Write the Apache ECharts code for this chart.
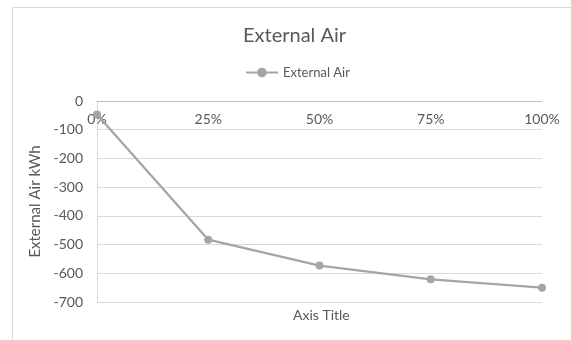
<!DOCTYPE html>
<html>
<head>
<meta charset="utf-8">
<script src="https://cdn.jsdelivr.net/npm/echarts@6/dist/echarts.min.js"></script>
<style>
  html, body { margin: 0; padding: 0; background: #fff; }
  #chart { width: 571px; height: 340px; }
</style>
</head>
<body>
<div id="chart"></div>
<script>
// Fraction of the run and the external air energy at each step
const fractions = [0, 0.25, 0.5, 0.75, 1];
const externalAirKWh = [-47, -483, -573, -621, -650];
const xTicks = [0, 0.25, 0.5, 0.75, 1];
const yTicks = [0, -100, -200, -300, -400, -500, -600, -700];

const FONT = 'Lato, "Open Sans", sans-serif';
const TEXT = '#595959';
const SERIES_COLOR = '#a5a5a5';

const chart = echarts.init(document.getElementById('chart'), null, { renderer: 'canvas' });

chart.setOption({
  backgroundColor: '#ffffff',
  animation: false,
  title: {
    text: 'External Air',
    left: 238,
    top: 21,
    textStyle: { fontFamily: FONT, fontSize: 20, fontWeight: 'normal', color: TEXT }
  },
  legend: {
    top: 61,
    left: 240,
    itemWidth: 32,
    itemHeight: 12,
    itemGap: 4,
    textStyle: { fontFamily: FONT, fontSize: 13, color: TEXT }
  },
  grid: { left: 97, right: 29, top: 101, bottom: 38, containLabel: false },
  xAxis: {
    type: 'value',
    position: 'top',
    min: xTicks[0],
    max: xTicks[xTicks.length - 1],
    interval: xTicks[1] - xTicks[0],
    axisLine: { show: true, lineStyle: { color: '#bfbfbf', width: 1 } },
    axisTick: { show: false },
    splitLine: { show: false },
    axisLabel: {
      inside: true,
      margin: 11,
      fontFamily: FONT,
      fontSize: 14,
      color: TEXT,
      formatter: v => Math.round(v * 100) + '%'
    }
  },
  yAxis: {
    type: 'value',
    min: yTicks[yTicks.length - 1],
    max: yTicks[0],
    interval: 100,
    name: 'External Air kWh',
    nameLocation: 'middle',
    nameRotate: 90,
    nameGap: 45,
    nameTextStyle: { fontFamily: FONT, fontSize: 15, color: TEXT },
    axisLine: { show: true, lineStyle: { color: '#d9d9d9', width: 1 } },
    axisTick: { show: false },
    splitLine: { show: true, lineStyle: { color: '#d9d9d9', width: 1 } },
    axisLabel: { margin: 14, fontFamily: FONT, fontSize: 14, color: TEXT }
  },
  graphic: [
    {
      type: 'rect',
      silent: true,
      shape: { x: 12.5, y: 7.5, width: 600, height: 400 },
      style: { fill: null, stroke: '#d9d9d9', lineWidth: 1 }
    },
    {
      type: 'text',
      left: 293,
      top: 308,
      style: { text: 'Axis Title', fontFamily: FONT, fontSize: 14, fill: TEXT }
    }
  ],
  series: [
    {
      name: 'External Air',
      type: 'line',
      data: fractions.map((f, i) => [f, externalAirKWh[i]]),
      symbol: 'circle',
      symbolSize: 8,
      lineStyle: { color: SERIES_COLOR, width: 2.25 },
      itemStyle: { color: SERIES_COLOR },
      z: 3
    }
  ]
});
</script>
</body>
</html>
